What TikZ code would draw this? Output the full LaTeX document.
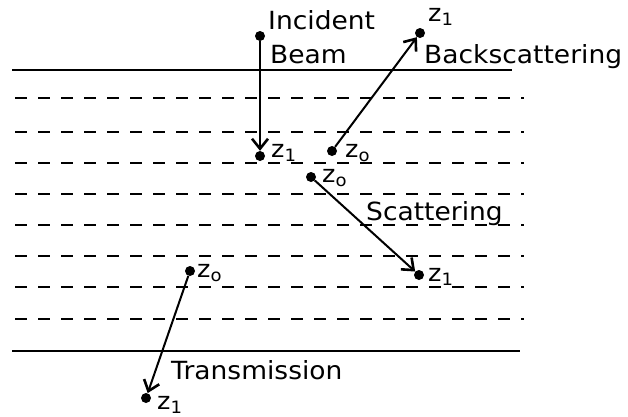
\documentclass[tikz,border=0pt]{standalone}
\usepackage{fontspec}
\setmainfont{DejaVu Sans}[FakeStretch=1.06]
\usetikzlibrary{arrows.meta}
\newcommand{\zlab}[1]{z\raisebox{-4pt}{\fontsize{17}{17}\selectfont #1}}
\tikzset{
  surface/.style={line width=1.6pt},
  layer/.style={line width=1.6pt, dash pattern=on 12pt off 11pt},
  dot/.style={circle, fill=black, inner sep=0pt, minimum size=10pt},
  ray/.style={line width=2pt, -{Straight Barb[length=10pt,width=16pt,line width=2.6pt]}},
  word/.style={anchor=base west, inner sep=0pt, font=\fontsize{25}{28}\selectfont},
  zword/.style={anchor=base west, inner sep=0pt, font=\fontsize{24}{26}\selectfont}
}
\begin{document}
\begin{tikzpicture}[x=1pt, y=-1pt]
  \useasboundingbox (0,0) rectangle (628,416);
  % target surfaces
  \draw[surface] (12,70) -- (512,70);
  \draw[surface] (12,351) -- (520,351);
  % internal layers
  \foreach \yy in {98,132,163,194,225,256,287,319}
    \draw[layer] (15,\yy) -- (524,\yy);

  % incident beam
  \node[dot] (ia) at (260,36) {};
  \node[dot] (ib) at (260,156) {};
  \draw[ray] (ia) -- (ib);
  \node[word] (tinc) at (268,29) {Incident};
  \node[word] (tbeam) at (270,63) {Beam};
  \node[zword] (zib) at (271,157) {\zlab{1}};

  % backscattering
  \node[dot] (ba) at (332,151) {};
  \node[dot] (bb) at (420,33) {};
  \draw[ray] (ba) -- (bb);
  \node[word] (tback) at (424,63) {Backscattering};
  \node[zword] (zba) at (345,157) {\zlab{o}};
  \node[zword] (zbb) at (428,21) {\zlab{1}};

  % scattering
  \node[dot] (sa) at (311,177) {};
  \node[dot] (sb) at (419,275) {};
  \draw[ray] (sa) -- (sb);
  \node[word] (tscat) at (366,220) {Scattering};
  \node[zword] (zsa) at (322,182) {\zlab{o}};
  \node[zword] (zsb) at (428,281) {\zlab{1}};

  % transmission
  \node[dot] (ta) at (190,271) {};
  \node[dot] (tb) at (146,398) {};
  \draw[ray] (ta) -- (tb);
  \node[word] (ttrans) at (171,379) {Transmission};
  \node[zword] (zta) at (197,277) {\zlab{o}};
  \node[zword] (ztb) at (157,409) {\zlab{1}};
\end{tikzpicture}
\end{document}
